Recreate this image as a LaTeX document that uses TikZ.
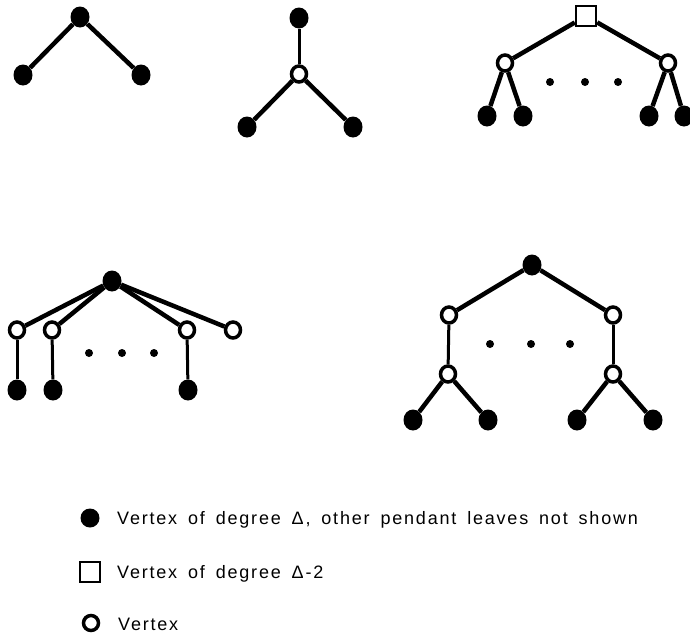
\documentclass[tikz,border=0pt]{standalone}
\usepackage{fontspec}
\setmainfont{Liberation Sans}[LetterSpace=10,WordSpace=1.6]
\usetikzlibrary{shapes.geometric}

\begin{document}
\begin{tikzpicture}[x=1pt, y=-1pt,
    blk/.style={shape=ellipse, fill=black, minimum width=19pt, minimum height=21pt, inner sep=0pt},
    wht/.style={shape=ellipse, draw, fill=white, line width=3.5pt, minimum width=15pt, minimum height=16pt, inner sep=0pt},
    sqr/.style={shape=rectangle, draw, fill=white, line width=2.5pt, minimum size=20pt, inner sep=0pt},
    smalldot/.style={shape=circle, fill=black, minimum size=8pt, inner sep=0pt},
    edg/.style={line width=4.5pt},
    thinedg/.style={line width=3pt},
    lbl/.style={anchor=base west, inner sep=0pt, font=\fontsize{18}{21}\selectfont}]
  \useasboundingbox (0,0) rectangle (690,635);

  % Tree 1
  \node[blk] (t10) at (80,17) {};
  \node[blk] (t11) at (23,75) {};
  \node[blk] (t12) at (141,75) {};

  \draw[edg] (t10) -- (t11);
  \draw[edg] (t10) -- (t12);

  % Tree 2
  \node[blk] (t20) at (299,18) {};
  \node[wht] (t21) at (299,74) {};
  \node[blk] (t22) at (247,127) {};
  \node[blk] (t23) at (353,127) {};

  \draw[thinedg] (t20) -- (t21);
  \draw[edg] (t21) -- (t22);
  \draw[edg] (t21) -- (t23);

  % Tree 3
  \node[sqr] (t30) at (586,16) {};
  \node[wht] (t31) at (505,63) {};
  \node[wht] (t32) at (668,63) {};
  \node[blk] (t33) at (487,116) {};
  \node[blk] (t34) at (523,116) {};
  \node[blk] (t35) at (649,116) {};
  \node[blk] (t36) at (684,116) {};

  \node[smalldot] (d31) at (550,82) {};
  \node[smalldot] (d32) at (585,82) {};
  \node[smalldot] (d33) at (618,82) {};

  \draw[edg] (t30) -- (t31);
  \draw[edg] (t30) -- (t32);
  \draw[edg] (t31) -- (t33);
  \draw[edg] (t31) -- (t34);
  \draw[edg] (t32) -- (t35);
  \draw[edg] (t32) -- (t36);

  % Tree 4
  \node[blk] (t40) at (112,281) {};
  \node[wht] (t41) at (17,330) {};
  \node[wht] (t42) at (52,330) {};
  \node[wht] (t43) at (187,330) {};
  \node[wht] (t44) at (233,330) {};
  \node[blk] (t45) at (17,390) {};
  \node[blk] (t46) at (53,390) {};
  \node[blk] (t47) at (188,390) {};

  \node[smalldot] (d41) at (89,353) {};
  \node[smalldot] (d42) at (122,353) {};
  \node[smalldot] (d43) at (154,353) {};

  \draw[edg] (t40) -- (t41);
  \draw[edg] (t40) -- (t42);
  \draw[edg] (t40) -- (t43);
  \draw[edg] (t40) -- (t44);
  \draw[thinedg] (t41) -- (t45);
  \draw[thinedg] (t42) -- (t46);
  \draw[thinedg] (t43) -- (t47);

  % Tree 5
  \node[blk] (t50) at (532,265) {};
  \node[wht] (t51) at (449,315) {};
  \node[wht] (t52) at (613,315) {};
  \node[wht] (t53) at (448,374) {};
  \node[wht] (t54) at (613,374) {};
  \node[blk] (t55) at (413,420) {};
  \node[blk] (t56) at (488,420) {};
  \node[blk] (t57) at (577,420) {};
  \node[blk] (t58) at (653,420) {};

  \node[smalldot] (d51) at (490,344) {};
  \node[smalldot] (d52) at (531,344) {};
  \node[smalldot] (d53) at (570,344) {};

  \draw[edg] (t50) -- (t51);
  \draw[edg] (t50) -- (t52);
  \draw[thinedg] (t51) -- (t53);
  \draw[thinedg] (t52) -- (t54);
  \draw[edg] (t53) -- (t55);
  \draw[edg] (t53) -- (t56);
  \draw[edg] (t54) -- (t57);
  \draw[edg] (t54) -- (t58);

  % Legend
  \node[blk, minimum width=19pt, minimum height=19pt] (k1) at (90,518) {};
  \node[sqr] (k2) at (90,572) {};
  \node[wht, minimum width=15pt, minimum height=15pt] (k3) at (91,623) {};
  \node[lbl] (k1txt) at (117,524) {Vertex of degree Δ, other pendant leaves not shown};
  \node[lbl] (k2txt) at (117,578) {Vertex of degree Δ-2};
  \node[lbl] (k3txt) at (118,630) {Vertex};
\end{tikzpicture}
\end{document}
